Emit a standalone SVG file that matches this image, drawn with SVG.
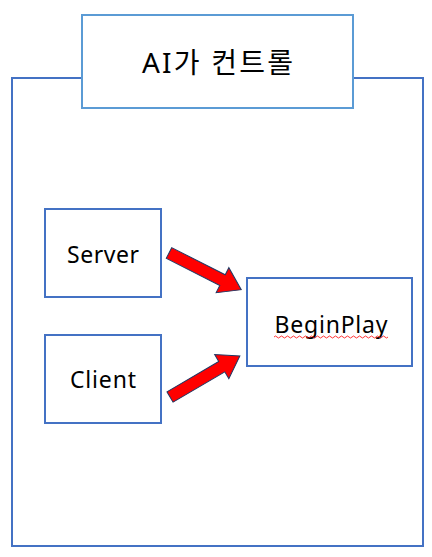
<svg xmlns="http://www.w3.org/2000/svg" width="432" height="557" viewBox="0 0 432 557">
<style>
.box{fill:#fff;stroke:#4472C4;stroke-width:2}
.title{fill:#fff;stroke:#5B9BD5;stroke-width:2}
.t{font-family:"Noto Sans","Noto Sans CJK KR",sans-serif;fill:#000;text-anchor:middle}
.arrow{fill:#FF0000;stroke:#203864;stroke-width:1}
</style>
<defs>
<polygon id="arr" points="0,-6 60,-6 60,-14 81,0 60,14 60,6 0,6"/>
</defs>
<rect id="container" x="12" y="78" width="411" height="468" class="box"/>
<g id="title">
<rect x="82" y="15" width="271" height="93" class="title"/>
<text class="t" x="217.5" y="73" font-size="28" textLength="151">AI가 컨트롤</text>
</g>
<g id="server">
<rect x="45" y="209" width="116" height="88" class="box"/>
<text class="t" x="103" y="263" font-size="23" textLength="72">Server</text>
</g>
<g id="client">
<rect x="45" y="335" width="116" height="88" class="box"/>
<text class="t" x="103" y="388" font-size="23" textLength="66">Client</text>
</g>
<g id="beginplay">
<rect x="247" y="278" width="165" height="88" class="box"/>
<text class="t" x="331" y="333" font-size="23" textLength="113">BeginPlay</text>
<path d="M274,337 q1.5,-2 3,0 t3,0 t3,0 t3,0 t3,0 t3,0 t3,0 t3,0 t3,0 t3,0 t3,0 t3,0 t3,0 t3,0 t3,0 t3,0 t3,0 t3,0 t3,0 t3,0 t3,0 t3,0 t3,0 t3,0 t3,0 t3,0 t3,0 t3,0 t3,0 t3,0 t3,0 t3,0 t3,0 t3,0 t3,0 t3,0 t3,0 t3,0" fill="none" stroke="#FF0000" stroke-width="0.8"/>
</g>
<g id="connectors">
<use href="#arr" class="arrow" transform="translate(169,253) rotate(26.9)"/>
<use href="#arr" class="arrow" transform="translate(170,397) rotate(-30.4)"/>
</g>
</svg>
